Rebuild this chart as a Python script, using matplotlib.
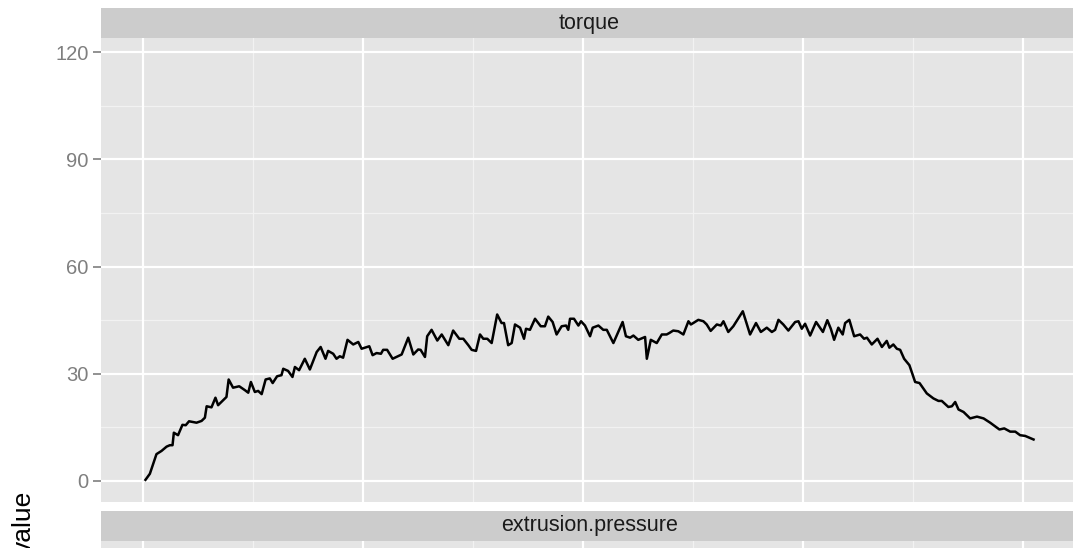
import numpy as np
import matplotlib.pyplot as plt

# torque trace (time index, value)
time = [1.2, 3.2, 6.2, 8.5, 10.8, 12.3, 13.5, 14.1, 16.0, 18.0,
        19.5, 21.0, 24.4, 26.7, 28.2, 29.0, 31.2, 33.0, 34.2, 38.0,
        39.0, 41.0, 43.8, 46.4, 47.9, 49.1, 50.9, 52.4, 54.0, 55.8,
        57.7, 59.0, 61.0, 63.0, 63.8, 66.0, 68.0, 69.1, 71.0, 73.6,
        75.9, 79.0, 80.8, 83.0, 84.2, 86.5, 88.0, 89.5, 91.0, 93.0,
        95.6, 97.9, 99.4, 102.9, 104.4, 106.2, 108.2, 109.2, 111.0, 113.5,
        117.6,
        120.6, 122.9, 125.1, 126.2, 128.2, 129.2, 131.2, 133.8, 135.8, 138.8,
        141.0, 143.8, 145.6, 147.9, 149.4, 151.4, 153.2, 154.7, 156.5, 158.5,
        161.0, 163.0, 164.1, 166.0, 167.6, 169.1, 171.4, 173.2, 174.1, 175.9,
        178.2, 180.8, 182.7, 184.2, 186.2, 188.0, 190.3, 192.3, 193.3, 194.1,
        195.9, 197.9, 199.1, 200.9, 203.2, 204.4, 207.0, 209.2, 210.8, 213.8,
        216.0, 218.0, 219.5, 221.4, 222.9, 225.1, 227.4, 228.2, 229.0, 230.8,
        233.5, 235.8, 238.0, 239.2, 241.0, 243.3, 245.6, 247.9, 249.0, 250.1,
        252.4, 254.7, 256.2,
        258.0, 260.8, 262.6, 263.8, 266.0, 268.3, 272.6, 275.9, 278.6, 280.8,
        283.5, 285.8, 287.3, 288.8, 291.0, 293.3, 296.4, 297.9, 299.4, 300.9,
        303.2, 305.9, 309.0, 311.0, 312.6, 314.1, 316.0, 318.0, 319.1, 321.0,
        323.2, 325.9, 327.7, 329.0, 331.2, 333.8, 335.8, 338.0, 339.2, 341.0,
        342.6, 344.1, 345.9, 348.3, 350.9, 352.9, 356.2, 359.2, 361.5, 363.0,
        366.0, 367.6, 369.1, 370.6, 372.9, 375.9, 379.0, 382.0, 385.0, 389.2,
        391.4, 394.1, 396.4, 398.6, 400.9, 404.7]

torque = [0.3, 2.0, 7.5, 8.4, 9.6, 10.0, 10.0, 13.5, 12.8, 15.7,
          15.6, 16.7, 16.3, 16.8, 17.7, 20.9, 20.6, 23.3, 21.2, 23.5,
          28.4, 26.1, 26.5, 25.4, 24.7, 27.7, 24.9, 25.2, 24.3, 28.4,
          28.7, 27.4, 29.3, 29.6, 31.4, 30.8, 29.1, 31.9, 31.0, 34.2,
          31.2, 36.1, 37.5, 34.2, 36.4, 35.6, 34.2, 34.9, 34.5, 39.5,
          38.2, 38.9, 37.0, 37.7, 35.2, 35.8, 35.6, 36.7, 36.7, 34.2,
          35.4,
          40.1, 35.4, 36.8, 36.7, 34.7, 40.5, 42.3, 39.3, 41.0, 38.0,
          42.1, 39.8, 39.8, 38.0, 36.7, 36.4, 41.0, 39.8, 39.8, 38.6,
          46.6, 44.2, 44.2, 38.0, 38.6, 43.8, 42.9, 39.8, 42.6, 42.3,
          45.4, 43.3, 43.3, 46.0, 44.5, 41.0, 43.3, 43.5, 42.3, 45.4,
          45.4, 43.5, 44.7, 43.5, 40.5, 42.9, 43.5, 42.3, 42.3, 38.6,
          41.7, 44.5, 40.5, 40.1, 40.7, 39.5, 40.1, 40.3, 34.2, 39.5,
          38.6, 41.0, 41.0, 41.4, 42.1, 41.9, 41.0, 44.7, 43.8, 44.2,
          45.1, 44.7, 43.8,
          42.0, 43.8, 43.5, 44.7, 41.7, 43.3, 47.5, 41.0, 44.2, 41.7,
          42.9, 41.7, 42.3, 45.1, 43.8, 42.1, 44.5, 44.7, 42.6, 44.0,
          40.7, 44.5, 41.7, 45.0, 42.6, 39.5, 42.9, 41.0, 44.2, 45.1,
          40.5, 41.0, 39.8, 40.1, 38.2, 39.8, 37.5, 39.2, 37.3, 38.2,
          37.0, 36.7, 34.2, 32.4, 27.7, 27.4, 24.5, 23.1, 22.4, 22.4,
          20.7, 20.9, 22.1, 20.0, 19.3, 17.5, 18.0, 17.5, 16.3, 14.4,
          14.7, 13.8, 13.8, 12.8, 12.6, 11.6]

panel_names = ['torque', 'extrusion.pressure']
y_major = [0, 30, 60, 90, 120]
y_minor = [15, 45, 75, 105]
x_major = [0, 100, 200, 300, 400]
x_minor = [50, 150, 250, 350]

W, H = 1073, 548
plt.rcParams['font.family'] = ['Liberation Sans', 'DejaVu Sans']


def box(x0, y0, x1, y1):
    # pixel box (top-left origin) -> figure fraction rect
    return [x0 / W, 1 - y1 / H, (x1 - x0) / W, (y1 - y0) / H]


def style_panel(ax):
    ax.set_facecolor('#E5E5E5')
    ax.set_xlim(-19.0, 424.9)
    ax.set_ylim(-5.9, 124)
    for v in x_minor:
        ax.axvline(v, color='#F2F2F2', lw=0.9, zorder=0.5)
    for v in y_minor:
        ax.axhline(v, color='#F2F2F2', lw=0.9, zorder=0.5)
    for v in x_major:
        ax.axvline(v, color='white', lw=1.6, zorder=0.6)
    for v in y_major:
        ax.axhline(v, color='white', lw=1.6, zorder=0.6)
    for s in ax.spines.values():
        s.set_visible(False)
    ax.set_xticks([])
    ax.set_yticks(y_major)
    ax.tick_params(axis='y', colors='#7F7F7F', labelcolor='#7F7F7F',
                   length=6, width=1.2, labelsize=14.5, pad=3)


def strip(rect, label):
    s = fig.add_axes(rect)
    s.set_facecolor('#CCCCCC')
    s.set_xticks([])
    s.set_yticks([])
    for sp in s.spines.values():
        sp.set_visible(False)
    s.text(0.5, 0.5, label, transform=s.transAxes, ha='center', va='center',
           fontsize=15.5, color='#1A1A1A')


fig = plt.figure(figsize=(W / 100, H / 100), dpi=100)

ax1 = fig.add_axes(box(101, 38, 1078, 502))
style_panel(ax1)
ax1.plot(time, torque, color='black', lw=1.8, zorder=2)
strip(box(101, 8, 1078, 38), panel_names[0])

ax2 = fig.add_axes(box(101, 541, 1078, 1005))
style_panel(ax2)
strip(box(101, 511, 1078, 541), panel_names[1])

fig.text(24 / W, 1 - 522 / H, 'value', rotation=90, ha='center',
         va='center', fontsize=19)

fig.savefig('out.png', dpi=100)
